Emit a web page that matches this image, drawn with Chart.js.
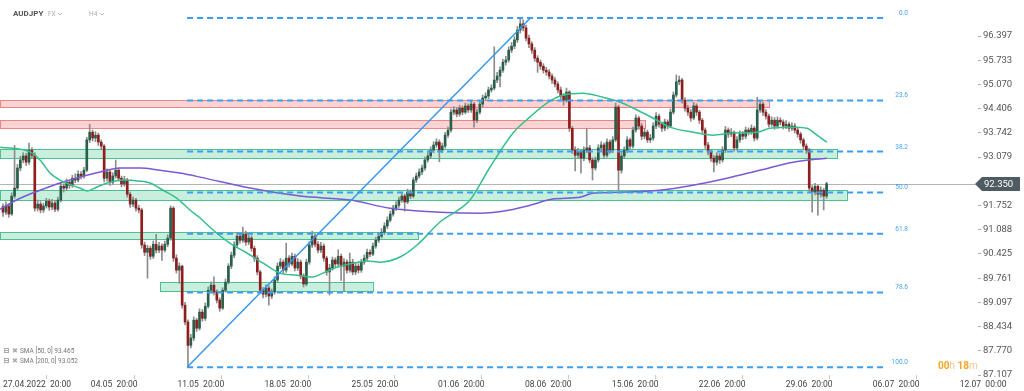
<!DOCTYPE html>
<html><head><meta charset="utf-8">
<script src="https://cdn.jsdelivr.net/npm/chart.js@4.4.0/dist/chart.umd.min.js"></script>
<style>html,body{margin:0;padding:0;background:#fff;overflow:hidden}canvas{display:block}</style>
</head><body><canvas id="c" width="1024" height="391"></canvas>
<script>
// ---- data (AUDJPY, H4) ----
const opens = [91.72,91.57,91.74,91.52,92.01,92.23,92.78,93.00,93.11,92.94,
93.27,93.13,91.68,91.79,91.63,91.74,91.87,91.71,91.82,91.65,
91.90,92.28,92.23,92.39,92.31,92.50,92.45,92.61,92.56,92.72,
93.55,93.76,93.60,93.68,93.49,93.38,92.50,92.67,92.39,92.56,
92.72,92.50,92.34,92.45,92.06,91.79,91.90,91.68,91.63,90.67,
90.47,90.58,90.36,90.69,90.53,90.64,90.53,90.69,90.86,91.68,
90.31,89.98,90.09,89.02,88.56,87.92,88.12,88.61,88.39,88.83,
88.66,88.99,89.43,89.57,89.38,89.16,88.94,89.43,89.65,90.09,
90.39,90.67,90.91,90.80,90.97,90.75,90.86,90.58,90.31,89.93,
89.43,89.32,89.49,89.27,89.38,89.71,90.09,90.20,89.98,90.31,
90.15,90.36,90.04,90.20,89.82,89.60,90.20,90.67,90.91,90.69,
90.53,90.64,90.31,89.93,90.04,90.26,90.15,90.36,90.09,90.20,
89.98,90.20,89.93,90.09,89.98,90.20,90.31,90.47,90.42,90.64,
90.80,90.91,91.02,91.19,91.35,91.52,91.68,91.76,91.90,92.01,
91.85,92.12,92.01,92.45,92.56,92.67,92.78,93.00,93.11,93.27,
93.41,93.49,93.27,93.38,93.68,93.82,94.31,94.37,94.26,94.42,
94.31,94.48,94.37,94.53,94.09,94.31,94.53,94.70,94.75,94.92,
94.97,95.19,95.30,95.46,95.68,95.74,96.01,96.12,96.29,96.56,
96.73,96.62,96.34,96.18,96.01,95.79,95.68,95.57,95.46,95.41,
95.30,95.19,95.08,94.92,94.75,94.64,94.86,93.87,93.27,93.13,
93.22,93.05,93.27,93.33,93.00,92.78,93.00,93.33,93.41,93.13,
93.49,93.27,93.55,94.45,92.72,93.11,93.27,93.55,93.38,93.82,
94.15,93.93,93.65,93.76,93.55,93.60,93.93,94.20,93.98,93.87,
94.04,93.93,94.31,94.78,95.14,95.19,94.64,94.42,94.31,94.15,
94.48,94.31,94.09,93.82,93.41,93.22,93.05,92.94,93.11,93.00,
93.27,93.82,93.71,93.76,93.33,93.55,93.71,93.65,93.82,93.76,
93.87,93.60,94.37,94.53,94.31,94.20,93.98,94.09,93.93,94.09,
94.04,93.93,93.98,93.87,93.93,93.82,93.71,93.55,93.38,93.27,
92.23,92.12,92.28,92.06,92.17,92.01];
const highs = [91.80,91.85,91.79,92.10,93.40,92.88,93.10,93.20,93.18,93.46,
93.33,93.20,91.90,91.86,91.82,91.95,91.93,91.92,91.88,91.98,
92.36,92.35,92.48,92.45,92.58,92.62,92.70,92.68,92.80,93.62,
93.98,93.82,93.78,93.74,93.55,93.42,92.76,92.72,92.65,93.00,
92.78,92.56,92.55,92.50,92.12,91.98,91.95,91.76,91.68,90.75,
90.66,90.64,90.78,90.96,90.74,90.70,90.78,90.95,91.74,91.72,
90.40,90.18,90.12,89.10,88.62,88.22,88.70,88.66,88.92,88.90,
89.08,89.52,89.66,89.80,89.44,89.22,89.50,89.74,90.16,90.48,
90.76,91.02,91.00,91.16,91.05,90.95,90.92,90.64,90.38,89.98,
89.50,89.58,89.55,89.46,89.80,90.18,90.30,90.26,90.72,90.38,
90.45,90.42,90.30,90.26,89.88,90.28,90.76,91.05,90.98,90.76,
90.74,90.70,90.36,90.14,90.34,90.32,90.54,90.42,90.30,90.26,
90.45,90.28,90.18,90.16,90.28,90.40,90.56,90.54,90.72,90.88,
91.00,91.12,91.28,91.44,91.60,91.76,91.86,91.98,92.10,92.06,
92.20,92.18,92.52,92.64,92.76,92.86,93.08,93.20,93.36,93.50,
93.58,93.55,93.46,93.76,93.90,94.40,94.46,94.44,94.50,94.48,
94.56,94.54,94.62,94.58,94.40,94.62,94.78,94.84,95.00,95.06,
96.10,95.40,95.55,95.76,95.84,96.10,96.22,96.38,96.66,96.89,
96.84,96.70,96.42,96.24,96.08,95.86,95.74,95.64,95.54,95.48,
95.36,95.26,95.14,95.00,94.82,94.97,94.90,93.92,93.36,93.32,
93.28,93.36,93.87,93.40,93.06,93.08,93.42,93.50,93.46,93.58,
93.55,93.64,94.56,94.50,93.20,93.36,93.64,93.60,93.90,94.24,
94.20,94.00,93.86,93.82,93.70,94.02,94.30,94.26,94.04,94.12,
94.10,94.40,94.86,95.33,95.30,95.24,94.70,94.50,94.38,94.58,
94.54,94.36,94.14,93.88,93.48,93.28,93.12,93.20,93.18,93.36,
93.92,93.88,93.86,93.80,93.64,93.80,93.78,93.90,93.88,93.96,
93.92,94.72,94.62,94.58,94.38,94.26,94.18,94.16,94.18,94.16,
94.10,94.08,94.04,94.02,94.00,93.88,93.76,93.60,93.44,93.32,
92.30,92.36,92.32,92.26,92.22,92.39];
const lows = [91.45,91.50,91.43,91.48,91.95,92.18,92.70,92.92,92.85,92.88,
93.05,91.60,91.60,91.55,91.56,91.68,91.62,91.64,91.58,91.60,
91.85,92.12,92.16,92.22,92.25,92.38,92.40,92.48,92.50,92.68,
93.48,93.52,93.50,93.40,93.28,92.40,92.42,92.30,92.33,92.50,
92.42,92.26,92.28,91.98,91.70,91.72,91.60,91.55,90.58,90.38,
89.76,90.28,90.30,90.45,90.46,90.25,90.48,90.62,90.80,90.22,
89.90,89.62,88.94,88.48,87.32,87.85,88.05,88.30,88.34,88.58,
88.60,88.94,89.36,89.30,89.08,88.85,88.90,89.38,89.60,90.02,
90.32,90.60,90.72,90.74,90.66,90.68,90.50,90.22,89.85,89.35,
89.22,89.25,89.02,89.20,89.32,89.66,90.02,89.90,89.92,90.06,
90.10,89.96,89.97,89.74,89.52,89.55,90.14,90.60,90.62,90.45,
90.46,90.22,89.84,89.30,89.98,90.06,90.08,89.70,89.40,89.90,
89.92,89.85,89.86,89.90,89.92,90.14,90.24,90.35,90.38,90.58,
90.74,90.86,90.96,91.12,91.30,91.46,91.62,91.70,91.84,91.60,
91.80,91.94,91.96,92.38,92.50,92.60,92.72,92.94,93.04,93.20,
93.34,92.95,93.20,93.32,93.62,93.76,94.24,94.18,94.20,94.24,
94.26,94.30,94.30,93.90,94.02,94.26,94.46,94.64,94.68,94.86,
94.92,95.12,95.00,95.40,95.60,95.68,95.94,96.05,96.22,96.48,
96.54,96.26,96.08,95.92,95.70,95.40,95.48,95.38,95.32,95.22,
95.10,95.00,94.84,94.66,94.50,94.58,93.78,93.18,92.70,93.04,
92.64,92.98,93.20,92.92,92.45,92.72,92.94,93.26,93.04,93.08,
93.18,93.20,93.50,92.17,92.64,93.04,93.20,93.30,93.32,93.76,
93.84,93.56,93.58,93.48,93.48,93.54,93.86,93.90,93.78,93.80,
93.85,93.88,94.26,94.72,95.06,94.56,94.34,94.22,94.06,94.10,
94.22,94.00,93.74,93.32,93.14,92.96,92.67,92.86,92.90,92.94,
93.20,93.62,93.64,93.24,93.26,93.48,93.56,93.58,93.68,93.70,
93.52,93.55,94.30,94.22,94.12,93.90,93.92,93.84,93.86,93.96,
93.85,93.86,93.78,93.80,93.74,93.62,93.46,93.30,93.18,92.14,
91.57,92.04,91.49,91.98,91.63,91.95];
const closes = [91.57,91.74,91.52,92.01,92.23,92.78,93.00,93.11,92.94,93.27,
93.13,91.68,91.79,91.63,91.74,91.87,91.71,91.82,91.65,91.90,
92.28,92.23,92.39,92.31,92.50,92.45,92.61,92.56,92.72,93.55,
93.76,93.60,93.68,93.49,93.38,92.50,92.67,92.39,92.56,92.72,
92.50,92.34,92.45,92.06,91.79,91.90,91.68,91.63,90.67,90.47,
90.58,90.36,90.69,90.53,90.64,90.53,90.69,90.86,91.68,90.31,
89.98,90.09,89.02,88.56,87.92,88.12,88.61,88.39,88.83,88.66,
88.99,89.43,89.57,89.38,89.16,88.94,89.43,89.65,90.09,90.39,
90.67,90.91,90.80,90.97,90.75,90.86,90.58,90.31,89.93,89.43,
89.32,89.49,89.27,89.38,89.71,90.09,90.20,89.98,90.31,90.15,
90.36,90.04,90.20,89.82,89.60,90.20,90.67,90.91,90.69,90.53,
90.64,90.31,89.93,90.04,90.26,90.15,90.36,90.09,90.20,89.98,
90.20,89.93,90.09,89.98,90.20,90.31,90.47,90.42,90.64,90.80,
90.91,91.02,91.19,91.35,91.52,91.68,91.76,91.90,92.01,91.85,
92.12,92.01,92.45,92.56,92.67,92.78,93.00,93.11,93.27,93.41,
93.49,93.27,93.38,93.68,93.82,94.31,94.37,94.26,94.42,94.31,
94.48,94.37,94.53,94.09,94.31,94.53,94.70,94.75,94.92,94.97,
95.19,95.30,95.46,95.68,95.74,96.01,96.12,96.29,96.56,96.73,
96.62,96.34,96.18,96.01,95.79,95.68,95.57,95.46,95.41,95.30,
95.19,95.08,94.92,94.75,94.64,94.86,93.87,93.27,93.13,93.22,
93.05,93.27,93.33,93.00,92.78,93.00,93.33,93.41,93.13,93.49,
93.27,93.55,94.45,92.72,93.11,93.27,93.55,93.38,93.82,94.15,
93.93,93.65,93.76,93.55,93.60,93.93,94.20,93.98,93.87,94.04,
93.93,94.31,94.78,95.14,95.19,94.64,94.42,94.31,94.15,94.48,
94.31,94.09,93.82,93.41,93.22,93.05,92.94,93.11,93.00,93.27,
93.82,93.71,93.76,93.33,93.55,93.71,93.65,93.82,93.76,93.87,
93.60,94.37,94.53,94.31,94.20,93.98,94.09,93.93,94.09,94.04,
93.93,93.98,93.87,93.93,93.82,93.71,93.55,93.38,93.27,92.23,
92.12,92.28,92.06,92.17,92.01,92.35];

// x-axis date ticks (bar index of each label) and their texts
const xTickIdx = [0, 30.4, 60.4, 90.5, 120.6, 150.5, 180.6, 210.7, 240.8, 270.9, 301.0, 331.1];
const xTickLabels = ['27.04.2022  20:00','04.05  20:00','11.05  20:00','18.05  20:00','25.05  20:00',
  '01.06  20:00','08.06  20:00','15.06  20:00','22.06  20:00','29.06  20:00','06.07  20:00','12.07  00:00'];
// price axis tick labels
const yTicks = [96.397,95.733,95.070,94.406,93.742,93.079,91.752,91.088,90.425,89.761,89.097,88.434,87.770,87.107];

// moving averages (bar index, price)
const sma50Idx = [-1.0,9.3,12.8,16.3,19.7,26.6,29.1,32.5,37.0,41.5,47.4,50.9,55.4,60.2,64.7,68.2,72.7,78.5,84.4,90.0,95.8,101.7,107.3,110.7,115.6,121.1,126.0,130.4,137.4,143.3,151.2,161.6,168.5,176.5,182.4,188.2,193.8,200.7,207.6,213.5,219.4,224.9,230.8,238.8,245.7,252.6,260.9,265.4,273.4,278.2,281.7,285.1];
const sma50Val = [93.35,93.22,93.00,92.64,92.45,92.23,92.15,92.26,92.39,92.45,92.42,92.37,92.17,91.95,91.63,91.41,91.08,90.72,90.45,90.17,89.90,89.84,89.79,89.90,90.06,90.17,90.23,90.20,90.34,90.67,91.30,91.90,92.80,93.74,94.18,94.56,94.78,94.83,94.72,94.59,94.37,94.15,93.90,93.76,93.68,93.74,93.76,93.87,93.90,93.87,93.68,93.49];
const sma200Idx = [-1.0,5.9,12.8,19.7,26.6,33.6,40.5,47.4,54.3,61.2,68.2,85.5,102.8,120.1,133.9,151.2,165.1,175.4,182.4,190.3,199.7,204.2,215.9,227.3,238.8,250.5,261.9,273.4,285.1];
const sma200Val = [91.65,91.95,92.17,92.37,92.53,92.67,92.78,92.78,92.72,92.64,92.53,92.23,92.01,91.90,91.68,91.57,91.54,91.63,91.76,91.93,91.98,92.09,92.12,92.17,92.31,92.50,92.72,92.94,93.05];

// Fibonacci retracement
const fibLabels = ['0.0','23.6','38.2','50.0','61.8','78.6','100.0'];
const fibPrices = [96.89,94.63,93.23,92.11,90.98,89.37,87.32];
const fibFromIdx = 63.7, fibToIdx = 305.2;
const trendIdx = [63.7, 182.5];
const trendVal = [87.32, 96.89];

// support / resistance zones
const zoneKind = ['res','res','sup','sup','sup','sup'];
const zoneFrom = [-1.1,-1.1,-1.1,-1.1,-1.1,54.3];
const zoneTo   = [265.0,222.2,288.6,292.0,143.6,128.0];
const zoneTop  = [94.64,94.09,93.30,92.17,91.02,89.65];
const zoneBot  = [94.45,93.87,93.05,91.90,90.83,89.40];

const smaLegend = ['SMA [50, 0] 93.465','SMA [200, 0] 93.052'];
const lastPrice = closes[closes.length-1];

// ---- styles ----
const BULL = '#285f4a', BEAR = '#8e1d1d', WICK = '#8c8c8c';
const FIB = '#3d9df2';

const bodyData = closes.map((c,i)=>({x:i, y:[opens[i], c]}));
const wickData = closes.map((c,i)=>({x:i, y:[lows[i], highs[i]]}));
const bodyColors = closes.map((c,i)=> c >= opens[i] ? BULL : BEAR);

const datasets = [];
datasets.push({type:'line', data: trendIdx.map((x,k)=>({x, y:trendVal[k]})), borderColor:'#3597f0', borderWidth:1.5, pointRadius:0, order:0});
fibPrices.forEach(p=>{
  datasets.push({type:'line', data:[{x:fibFromIdx,y:p},{x:fibToIdx,y:p}], borderColor:FIB, borderWidth:2, borderDash:[6,4], pointRadius:0, order:1});
});
datasets.push({type:'line', data: sma50Idx.map((x,k)=>({x, y:sma50Val[k]})), borderColor:'#33c08a', borderWidth:1.5, pointRadius:0, cubicInterpolationMode:'monotone', order:2});
datasets.push({type:'line', data: sma200Idx.map((x,k)=>({x, y:sma200Val[k]})), borderColor:'#7b58d4', borderWidth:1.5, pointRadius:0, cubicInterpolationMode:'monotone', order:3});
datasets.push({type:'bar', data: bodyData, backgroundColor: bodyColors, barThickness:2, minBarLength:1, grouped:false, borderWidth:0, order:4});
datasets.push({type:'bar', data: wickData, backgroundColor: WICK, barThickness:1, grouped:false, borderWidth:0, order:5});

const backdrop = {
  id:'backdrop',
  beforeDatasetsDraw(chart){
    const {ctx, chartArea:a, scales:{x, y}} = chart;
    ctx.save();
    ctx.beginPath(); ctx.rect(a.left, a.top, a.right-a.left, a.bottom-a.top); ctx.clip();
    zoneKind.forEach((k,i)=>{
      const x1 = x.getPixelForValue(zoneFrom[i]), x2 = x.getPixelForValue(zoneTo[i]);
      const y1 = y.getPixelForValue(zoneTop[i]), y2 = y.getPixelForValue(zoneBot[i]);
      ctx.fillStyle = k==='res' ? 'rgba(246,150,150,0.42)' : 'rgba(110,214,168,0.38)';
      ctx.fillRect(x1, y1, x2-x1, y2-y1);
      ctx.strokeStyle = k==='res' ? '#ec8585' : '#4cc190';
      ctx.lineWidth = 1;
      ctx.strokeRect(Math.round(x1)+0.5, Math.round(y1)+0.5, Math.round(x2-x1), Math.round(y2-y1));
    });
    const py = Math.round(y.getPixelForValue(lastPrice))+0.5;
    ctx.strokeStyle = '#b4b4b4'; ctx.lineWidth = 1;
    ctx.beginPath(); ctx.moveTo(a.left, py); ctx.lineTo(a.right, py); ctx.stroke();
    ctx.restore();
  },
  afterDraw(chart){
    const {ctx, chartArea:a, scales:{x, y}} = chart;
    ctx.save();
    // fib labels
    ctx.font = '6.5px Roboto'; ctx.fillStyle = '#45a3f3'; ctx.textAlign = 'right'; ctx.textBaseline = 'alphabetic';
    const fx = x.getPixelForValue(fibToIdx) + 23;
    fibPrices.forEach((p,i)=>{ ctx.fillText(fibLabels[i], fx, y.getPixelForValue(p) - 3); });
    // price label on axis
    const py = Math.round(y.getPixelForValue(lastPrice));
    ctx.fillStyle = '#4e5b62';
    ctx.beginPath();
    ctx.moveTo(a.right-3, py); ctx.lineTo(a.right+4, py-7); ctx.lineTo(1020, py-7); ctx.lineTo(1020, py+7); ctx.lineTo(a.right+4, py+7); ctx.closePath(); ctx.fill();
    ctx.fillStyle = '#ffffff'; ctx.font = '9.5px Roboto'; ctx.textAlign = 'left'; ctx.textBaseline = 'middle';
    ctx.fillText(lastPrice.toFixed(3), a.right+6, py+0.5);
    // header
    ctx.textBaseline = 'middle';
    ctx.font = 'bold 8px Roboto'; ctx.fillStyle = '#555';
    ctx.fillText('AUDJPY', 13, 14);
    ctx.font = '6.5px Roboto'; ctx.fillStyle = '#aaa';
    ctx.fillText('FX', 48, 14);
    ctx.fillText('H4', 89, 14);
    ctx.strokeStyle = '#bbb'; ctx.lineWidth = 1;
    [[60,13],[102,13]].forEach(([cx,cy])=>{ ctx.beginPath(); ctx.moveTo(cx-2,cy); ctx.lineTo(cx,cy+2); ctx.lineTo(cx+2,cy); ctx.stroke(); });
    // SMA legend
    ctx.font = '6.5px Roboto'; ctx.fillStyle = '#777';
    smaLegend.forEach((t,i)=>{
      const ly = 351 + i*10;
      ctx.fillStyle = '#aaa'; ctx.fillRect(4, ly-3, 5, 5);
      ctx.fillStyle = '#fff'; ctx.fillRect(5, ly-2, 3, 1); ctx.fillRect(5, ly, 3, 1);
      ctx.fillStyle = '#aaa'; ctx.fillText('\u2716', 12, ly);
      ctx.fillStyle = '#777'; ctx.fillText(t, 20, ly);
    });
    // countdown
    ctx.textBaseline = 'alphabetic'; ctx.textAlign = 'left';
    let cx = 938; const cy = 369;
    [['00','bold 10px Roboto','#f5a623'],['h','10px Roboto','#efc78f'],[' 18','bold 10px Roboto','#f5a623'],['m','10px Roboto','#efc78f']].forEach(([t,f,c])=>{
      ctx.font = f; ctx.fillStyle = c; ctx.fillText(t, cx, cy); cx += ctx.measureText(t).width;
    });
    ctx.restore();
  }
};

new Chart(document.getElementById('c'), {
  type:'bar',
  data:{datasets},
  options:{
    responsive:false, animation:false, devicePixelRatio:1,
    layout:{padding:0},
    plugins:{legend:{display:false}, tooltip:{enabled:false}},
    scales:{
      x:{type:'linear', min:-1.04, max:337.4, offset:false,
        grid:{drawOnChartArea:false, tickLength:4, color:'#c8c8c8'}, border:{display:false},
        afterBuildTicks(s){ s.ticks = xTickIdx.map(v=>({value:v})); },
        afterFit(s){ s.height = 16; s.paddingLeft = 0; s.paddingRight = 0; },
        ticks:{autoSkip:false, maxRotation:0, align:'start', padding:1, color:'#444', font:{family:'Roboto', size:8.5},
          callback:(v,i)=> xTickLabels[i]}
      },
      y:{type:'linear', position:'right', min:87.107, max:97.384,
        grid:{drawOnChartArea:false, tickLength:3, color:'#aaa'}, border:{display:false},
        afterBuildTicks(s){ s.ticks = yTicks.map(v=>({value:v})); },
        afterFit(s){ s.width = 46; s.paddingTop = 0; s.paddingBottom = 0; },
        ticks:{autoSkip:false, padding:2, color:'#555', font:{family:'Roboto', size:9.5},
          callback:(v)=> Number(v).toFixed(3)}
      }
    }
  },
  plugins:[backdrop]
});
</script></body></html>
